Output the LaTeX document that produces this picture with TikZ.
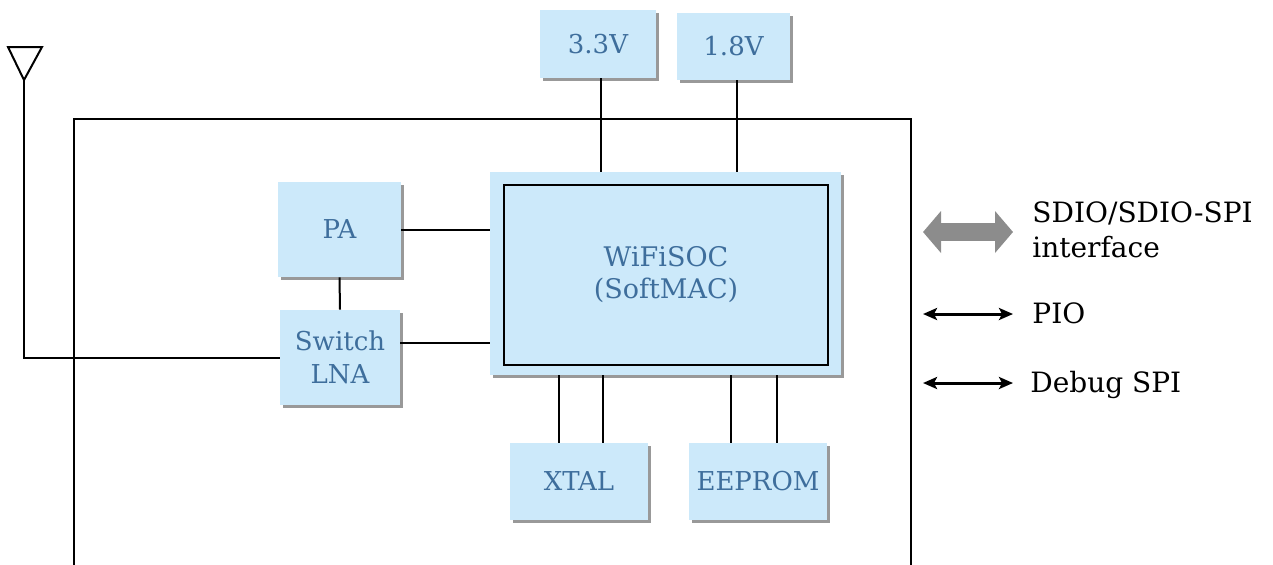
\documentclass[tikz,border=0pt]{standalone}
\usepackage{fontspec}
\setmainfont{DejaVu Serif}
\usepackage{tikz}
\usetikzlibrary{positioning}
\usetikzlibrary{arrows.meta,shadows}
\definecolor{boxblue}{RGB}{204,233,250}
\definecolor{labelblue}{RGB}{62,110,156}
\definecolor{busgray}{RGB}{140,140,140}
\tikzstyle{block}=[rectangle,fill=boxblue,draw=none,inner sep=0pt,text=labelblue,align=center,font=\fontsize{13}{16.5}\selectfont,drop shadow={shadow xshift=1.25pt,shadow yshift=-1.25pt,fill=black!40,opacity=1}]
\tikzstyle{wire} = [draw,line width=1pt]
\tikzstyle{busarrow} = [draw=busgray,line width=9pt,{Triangle[length=9pt,width=20.5pt]}-{Triangle[length=9pt,width=20.5pt]}]
\tikzstyle{sigarrow} = [draw,line width=1.5pt,{Stealth[length=7pt,width=6pt,inset=1.5pt]}-{Stealth[length=7pt,width=6pt,inset=1.5pt]}]
\tikzstyle{iflabel} = [inner sep=0pt,align=left,font=\fontsize{14}{17.5}\selectfont]
\begin{document}
\begin{tikzpicture}[x=0.5pt,y=-0.5pt]

  \clip (0,0) rectangle (1273,564);

  % module outline
  \draw[wire] (74,119) rectangle (911,640);

  % supplies, front end, clock and memory
  \foreach \x/\y/\w/\h/\name/\label in {598/44/58/34/v33/3.3V, 733.5/46.5/56.5/33.5/v18/1.8V, 339.5/229.5/61.5/47.5/pa/PA, 340/357.5/60/47.5/sw/{Switch\\LNA}, 579/481.5/69/38.5/xtal/XTAL, 758/481.5/69/38.5/eeprom/EEPROM}
          \node[block, minimum width=\w pt, minimum height=\h pt] (\name) at (\x,\y) {\label};

  % the SoC
  \node[block, minimum width=175.5pt, minimum height=101.5pt] (socbase) at (665.5,273.5) {};
  \node[draw=black, line width=1pt, minimum width=162pt, minimum height=90pt, text=labelblue, align=center, font=\fontsize{13.5}{16}\selectfont] (soc) at (666,275) {WiFiSOC\\(SoftMAC)};

  \path[wire] ([xshift=1.5pt]v33.south) -- ([xshift=1.5pt]v33.south |- socbase.north);
  \path[wire] ([xshift=1.75pt]v18.south) -- ([xshift=1.75pt]v18.south |- socbase.north);
  \path[wire] (pa.east) -- (pa.east -| socbase.west);
  \path[wire] ([yshift=7.25pt]sw.east) -- ([yshift=7.25pt]sw.east -| socbase.west);
  \path[wire] (pa.south) -- (sw.north);

  \foreach \dest/\off in {xtal/-10, xtal/12, eeprom/-13.5, eeprom/9.5}
         \path[wire] ([xshift=\off pt]\dest.north) -- ([xshift=\off pt]\dest.north |- socbase.south);

  % antenna
  \coordinate (ant) at (24,80);
  \draw[wire] (8,47) -- (42,47) -- (ant) -- cycle;
  \path[wire] (ant) |- (sw.west);

  % host interfaces
  \coordinate (busL) at (923,232);
  \coordinate (busR) at (1013,232);
  \coordinate (pioL) at (923,314);
  \coordinate (pioR) at (1013,314);
  \coordinate (dbgL) at (923,383);
  \coordinate (dbgR) at (1013,383);
  \path[busarrow] (busL) -- (busR);
  \path[sigarrow] (pioL) -- (pioR);
  \path[sigarrow] (dbgL) -- (dbgR);

  \node[iflabel, anchor=west] (buslabel) at (1032,230) {SDIO/SDIO-SPI\\interface};
  \node[iflabel, anchor=base west] (piolabel) at (1032,323) {PIO};
  \node[iflabel, anchor=base west] (dbglabel) at (1030,392) {Debug SPI};

\end{tikzpicture}
\end{document}
